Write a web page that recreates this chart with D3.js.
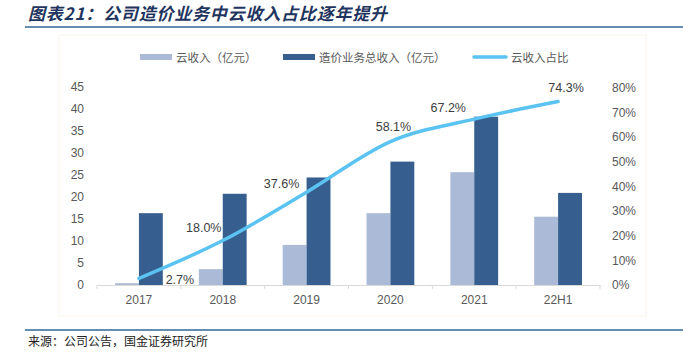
<!DOCTYPE html>
<html>
<head>
<meta charset="utf-8">
<script src="https://cdn.jsdelivr.net/npm/d3@7"></script>
<style>
  body { margin: 0; background: #fff; }
  svg { display: block; }
</style>
</head>
<body>
<div id="chart"></div>
<script>
// data
const years = ['2017', '2018', '2019', '2020', '2021', '22H1'];
const cloudRevenue = [0.4, 3.6, 9.1, 16.3, 25.6, 15.5];
const totalRevenue = [16.3, 20.7, 24.4, 28.0, 38.2, 20.9];
const cloudShare = [2.7, 18.0, 37.6, 58.1, 67.2, 74.3];
const shareLabels = ['2.7%', '18.0%', '37.6%', '58.1%', '67.2%', '74.3%'];
const leftTicks = [0, 5, 10, 15, 20, 25, 30, 35, 40, 45];
const rightTicks = [0, 10, 20, 30, 40, 50, 60, 70, 80];
const seriesNames = ['云收入（亿元）', '造价业务总收入（亿元）', '云收入占比'];

// label nudges (dx, dy from the line point)
const labelOffsets = [[41, 2], [-19, -13], [-25, -8], [3, -15], [-26, -11], [8, -14]];

const width = 683, height = 360;
const colors = { light: '#abbad7', dark: '#365f8f', line: '#5bc3f1' };
const numFont = '"Liberation Sans", Arial, sans-serif';
const cjkFont = '"Noto Sans CJK SC", sans-serif';

const svg = d3.select('#chart').append('svg')
  .attr('width', width)
  .attr('height', height);

// title + rules
svg.append('text')
  .attr('x', 28).attr('y', 20)
  .attr('font-family', cjkFont)
  .attr('font-size', 17)
  .attr('font-weight', 'bold')
  .attr('font-style', 'italic')
  .attr('letter-spacing', 0.8)
  .attr('fill', '#1f3560')
  .text('图表21：公司造价业务中云收入占比逐年提升');

svg.append('line')
  .attr('x1', 25).attr('x2', 683).attr('y1', 27).attr('y2', 27)
  .attr('stroke', '#2f6897').attr('stroke-width', 1.6);

svg.append('rect')
  .attr('x', 59).attr('y', 35).attr('width', 587).attr('height', 281)
  .attr('fill', '#fff').attr('stroke', '#fcf4ea').attr('stroke-width', 1);

svg.append('line')
  .attr('x1', 25).attr('x2', 683).attr('y1', 330).attr('y2', 330)
  .attr('stroke', '#2f6897').attr('stroke-width', 1.6);

svg.append('text')
  .attr('x', 28).attr('y', 346)
  .attr('font-family', cjkFont)
  .attr('font-size', 12)
  .attr('fill', '#222')
  .text('来源：公司公告，国金证券研究所');

// scales
const plot = { left: 97, right: 600, top: 86, bottom: 285 };

const x = d3.scaleBand()
  .domain(years)
  .range([plot.left, plot.right])
  .paddingInner(0.43)
  .paddingOuter(0.215);

const x1 = d3.scaleBand()
  .domain(['cloud', 'total'])
  .range([0, x.bandwidth()]);

const y = d3.scaleLinear().domain([0, 45]).range([plot.bottom, plot.top + 0.7]);
const y2 = d3.scaleLinear().domain([0, 80]).range([plot.bottom, plot.top + 1.5]);

// axes
const leftAxis = svg.append('g')
  .attr('transform', `translate(${plot.left - 13},0)`)
  .call(d3.axisLeft(y).tickValues(leftTicks).tickSize(0).tickPadding(0));
leftAxis.select('.domain').remove();

const rightAxis = svg.append('g')
  .attr('transform', `translate(${plot.right + 12},0)`)
  .call(d3.axisRight(y2).tickValues(rightTicks).tickSize(0).tickPadding(0)
    .tickFormat(d => d + '%'));
rightAxis.select('.domain').remove();

[leftAxis, rightAxis].forEach(g => g.selectAll('text')
  .attr('font-family', numFont)
  .attr('font-size', 12)
  .attr('fill', '#595959'));

const bottomAxis = svg.append('g')
  .attr('transform', `translate(0,${plot.bottom})`)
  .call(d3.axisBottom(x).tickSize(0).tickPadding(10));
bottomAxis.select('.domain').attr('stroke', '#d9d9d9');
bottomAxis.selectAll('text')
  .attr('font-family', numFont)
  .attr('font-size', 12)
  .attr('fill', '#595959');

// boundary tick marks
const step = x.step();
svg.append('g')
  .selectAll('line')
  .data(d3.range(years.length + 1))
  .join('line')
  .attr('x1', i => plot.left + i * step)
  .attr('x2', i => plot.left + i * step)
  .attr('y1', plot.bottom)
  .attr('y2', plot.bottom + 4)
  .attr('stroke', '#d9d9d9');

// bars
const barData = years.map((yr, i) => ({ yr, cloud: cloudRevenue[i], total: totalRevenue[i] }));

const groups = svg.append('g')
  .selectAll('g')
  .data(barData)
  .join('g')
  .attr('transform', d => `translate(${x(d.yr)},0)`);

groups.selectAll('rect')
  .data(d => [
    { key: 'cloud', value: d.cloud, color: colors.light },
    { key: 'total', value: d.total, color: colors.dark }
  ])
  .join('rect')
  .attr('x', d => x1(d.key))
  .attr('width', x1.bandwidth())
  .attr('y', d => y(d.value))
  .attr('height', d => plot.bottom - y(d.value))
  .attr('fill', d => d.color);

// share line
const pts = years.map((yr, i) => [x(yr) + x.bandwidth() / 2, y2(cloudShare[i])]);

svg.append('path')
  .datum(pts)
  .attr('fill', 'none')
  .attr('stroke', colors.line)
  .attr('stroke-width', 3.5)
  .attr('stroke-linecap', 'round')
  .attr('d', d3.line().curve(d3.curveMonotoneX));

svg.append('g')
  .selectAll('text')
  .data(pts)
  .join('text')
  .attr('x', (p, i) => p[0] + labelOffsets[i][0])
  .attr('y', (p, i) => p[1] + labelOffsets[i][1])
  .attr('text-anchor', 'middle')
  .attr('dominant-baseline', 'central')
  .attr('font-family', numFont)
  .attr('font-size', 12.5)
  .attr('fill', '#404040')
  .text((p, i) => shareLabels[i]);

// legend
const legendItems = [
  { name: seriesNames[0], type: 'bar', color: colors.light, x: 140 },
  { name: seriesNames[1], type: 'bar', color: colors.dark, x: 283 },
  { name: seriesNames[2], type: 'line', color: colors.line, x: 473 }
];

const legend = svg.append('g')
  .selectAll('g')
  .data(legendItems)
  .join('g')
  .attr('transform', d => `translate(${d.x},57)`);

legend.filter(d => d.type === 'bar')
  .append('rect')
  .attr('x', 0).attr('y', -3)
  .attr('width', 32).attr('height', 6)
  .attr('fill', d => d.color);

legend.filter(d => d.type === 'line')
  .append('line')
  .attr('x1', 1).attr('x2', 33).attr('y1', 0).attr('y2', 0)
  .attr('stroke', d => d.color)
  .attr('stroke-width', 3.5)
  .attr('stroke-linecap', 'round');

legend.append('text')
  .attr('x', d => d.type === 'line' ? 38 : 36)
  .attr('y', 0)
  .attr('dominant-baseline', 'central')
  .attr('font-family', cjkFont)
  .attr('font-size', 11.5)
  .attr('fill', '#595959')
  .text(d => d.name);
</script>
</body>
</html>
